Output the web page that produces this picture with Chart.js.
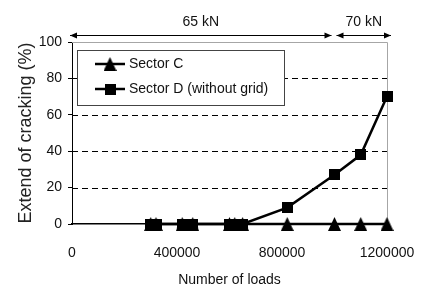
<!DOCTYPE html>
<html>
<head>
<meta charset="utf-8">
<script src="https://cdn.jsdelivr.net/npm/chart.js@4/dist/chart.umd.min.js"></script>
<style>
  html, body { margin: 0; padding: 0; background: #fff; }
  #wrap { width: 430px; height: 284px; }
</style>
</head>
<body>
<div id="wrap"><canvas id="lineChart"></canvas></div>
<script>
// number of loads where the cracks were measured
const loads = [300000, 320000, 420000, 460000, 600000, 620000, 650000, 820000, 1000000, 1100000, 1200000];
const sectorC = [0, 0, 0, 0, 0, 0, 0, 0, 0, 0, 0];
const sectorD = [0, 0, 0, 0, 0, 0, 0, 9, 27, 38, 70];
const xTicks = [0, 400000, 800000, 1200000];
const yTicks = [0, 20, 40, 60, 80, 100];
const stageLabels = ['65 kN', '70 kN'];
const stageLimits = [0, 1000000, 1200000];

const FONT = "'Liberation Sans', Arial, sans-serif";
const INK = '#111';

Chart.defaults.font.family = FONT;
Chart.defaults.color = INK;

function makeMarker(kind) {
  const c = document.createElement('canvas');
  const g = c.getContext('2d');
  if (kind === 'triangle') {
    c.width = 13; c.height = 14;
    g.fillStyle = '#000';
    g.beginPath();
    g.moveTo(6.5, 0);
    g.lineTo(13, 14);
    g.lineTo(0, 14);
    g.closePath();
    g.fill();
  } else {
    c.width = 11; c.height = 11;
    g.fillStyle = '#000';
    g.fillRect(0, 0, 11, 11);
  }
  return c;
}
const triMarker = makeMarker('triangle');
const sqMarker = makeMarker('square');

const decor = {
  id: 'decor',
  beforeDatasetsDraw(chart) {
    const { ctx, chartArea: a, scales: { y } } = chart;
    ctx.save();
    ctx.lineWidth = 1;
    ctx.strokeStyle = '#000';
    ctx.setLineDash([6, 4]);
    yTicks.forEach(v => {
      if (v <= 0 || v >= 100) return;
      const py = Math.round(y.getPixelForValue(v)) + 0.5;
      ctx.beginPath();
      ctx.moveTo(a.left, py);
      ctx.lineTo(a.right, py);
      ctx.stroke();
    });
    ctx.setLineDash([]);
    ctx.strokeStyle = '#a6a6a6';
    ctx.beginPath();
    ctx.moveTo(a.left, Math.round(a.top) + 0.5);
    ctx.lineTo(Math.round(a.right) + 0.5, Math.round(a.top) + 0.5);
    ctx.lineTo(Math.round(a.right) + 0.5, a.bottom);
    ctx.stroke();
    ctx.restore();
  },
  afterDatasetsDraw(chart) {
    const { ctx, scales: { x } } = chart;
    ctx.save();

    // legend box
    ctx.fillStyle = '#fff';
    ctx.fillRect(77, 50, 207, 55);
    ctx.strokeStyle = '#444';
    ctx.lineWidth = 1;
    ctx.strokeRect(77.5, 50.5, 207, 55);
    const entries = [
      { text: 'Sector C', marker: triMarker, y: 64 },
      { text: 'Sector D (without grid)', marker: sqMarker, y: 89 }
    ];
    ctx.font = '14px ' + FONT;
    ctx.textBaseline = 'middle';
    entries.forEach(e => {
      ctx.strokeStyle = '#000';
      ctx.lineWidth = 2.5;
      ctx.beginPath();
      ctx.moveTo(95, e.y);
      ctx.lineTo(125, e.y);
      ctx.stroke();
      ctx.drawImage(e.marker, 110 - e.marker.width / 2, e.y - e.marker.height / 2);
      ctx.fillStyle = INK;
      ctx.fillText(e.text, 129, e.y);
    });

    // load stage arrows
    const ay = 35.5;
    ctx.strokeStyle = '#000';
    ctx.fillStyle = '#000';
    ctx.lineWidth = 1.2;
    const head = (px, dir) => {
      ctx.beginPath();
      ctx.moveTo(px, ay);
      ctx.lineTo(px - dir * 7, ay - 3);
      ctx.lineTo(px - dir * 7, ay + 3);
      ctx.closePath();
      ctx.fill();
    };
    for (let i = 0; i < stageLabels.length; i++) {
      const x1 = x.getPixelForValue(stageLimits[i]) + (i === 0 ? -2 : 2);
      const x2 = x.getPixelForValue(stageLimits[i + 1]) + (i === 0 ? -3 : 4);
      ctx.beginPath();
      ctx.moveTo(x1, ay);
      ctx.lineTo(x2, ay);
      ctx.stroke();
      head(x1, -1);
      head(x2, 1);
      ctx.fillStyle = INK;
      ctx.textAlign = 'center';
      ctx.fillText(stageLabels[i], (x1 + x2) / 2, 22);
      ctx.fillStyle = '#000';
    }
    ctx.restore();
  }
};

const ctx = document.getElementById('lineChart');

new Chart(ctx, {
  type: 'line',
  data: {
    datasets: [{
      label: 'Sector C',
      data: loads.map((v, i) => ({ x: v, y: sectorC[i] })),
      borderColor: '#000',
      backgroundColor: '#000',
      borderWidth: 2.5,
      pointStyle: triMarker,
      pointRadius: 7,
      clip: false,
      order: 1
    }, {
      label: 'Sector D (without grid)',
      data: loads.map((v, i) => ({ x: v, y: sectorD[i] })),
      borderColor: '#000',
      backgroundColor: '#000',
      borderWidth: 2.5,
      pointStyle: sqMarker,
      pointRadius: 6,
      clip: false,
      order: 0
    }]
  },
  options: {
    responsive: true,
    maintainAspectRatio: false,
    animation: false,
    layout: { padding: { top: 42, right: 43, left: 0, bottom: 0 } },
    plugins: {
      legend: { display: false },
      tooltip: { enabled: false }
    },
    scales: {
      x: {
        type: 'linear',
        min: 0,
        max: 1200000,
        afterBuildTicks: s => { s.ticks = xTicks.map(v => ({ value: v })); },
        afterFit: s => { s.height = 60; },
        ticks: {
          font: { size: 14 },
          padding: 13,
          maxRotation: 0,
          autoSkip: false,
          callback: v => String(v)
        },
        grid: { display: false },
        border: { display: true, color: '#000', width: 1.5 },
        title: {
          display: true,
          text: 'Number of loads',
          font: { size: 14 },
          padding: { top: 0, bottom: -5 }
        }
      },
      y: {
        min: 0,
        max: 100,
        afterBuildTicks: s => { s.ticks = yTicks.map(v => ({ value: v })); },
        afterFit: s => { s.width = 72; },
        ticks: { font: { size: 14 }, padding: 6 },
        grid: {
          display: true,
          drawOnChartArea: false,
          drawTicks: true,
          tickLength: 4,
          tickColor: '#000'
        },
        border: { display: true, color: '#000', width: 1 },
        title: {
          display: true,
          text: 'Extend of cracking (%)',
          font: { size: 18 },
          color: '#222',
          padding: { top: 15, bottom: 0 }
        }
      }
    }
  },
  plugins: [decor]
});
</script>
</body>
</html>
